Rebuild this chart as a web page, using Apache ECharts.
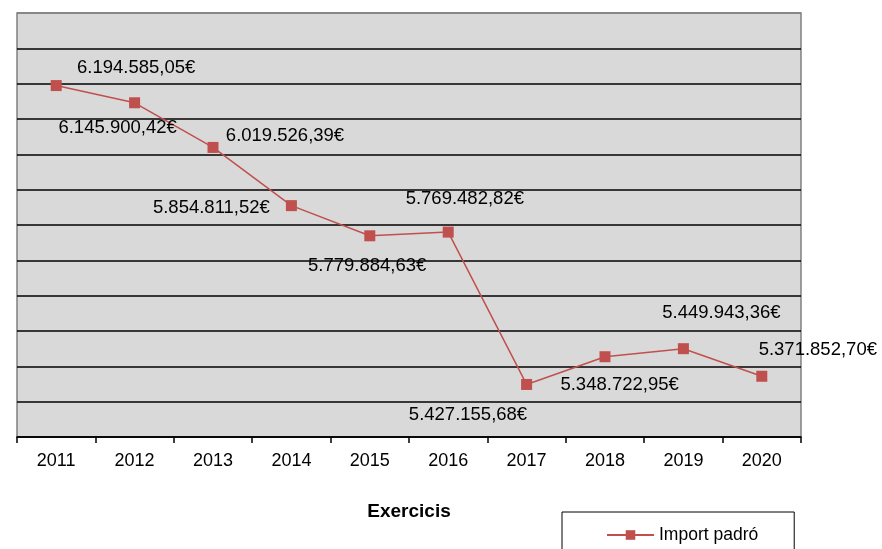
<!DOCTYPE html>
<html>
<head>
<meta charset="utf-8">
<script src="https://cdn.jsdelivr.net/npm/echarts@6/dist/echarts.min.js"></script>
<style>html,body{margin:0;padding:0;background:#fff}#c{width:882px;height:549px}</style>
</head>
<body>
<div id="c"></div>
<script>
const categories = ['2011','2012','2013','2014','2015','2016','2017','2018','2019','2020'];
const importPadro = [6194585.05, 6145900.42, 6019526.39, 5854811.52, 5769482.82, 5779884.63, 5348722.95, 5427155.68, 5449943.36, 5371852.70];
const seriesName = 'Import padró';
const axisName = 'Exercicis';
// label placement (offset of label centre from each point), as moved in the original
const labelOffsets = [[80,-18],[-17,25],[72,-12],[-80,2],[95,-37],[-81,34],[93,0],[-137,58],[38,-36],[56,-26]];

function fmt(v){
  const s = v.toFixed(2);
  const parts = s.split('.');
  const intPart = parts[0].replace(/\B(?=(\d{3})+(?!\d))/g, '.');
  return intPart + ',' + parts[1] + '€';
}

const font = 'Liberation Sans, Arial, sans-serif';
const gridColors = [];
for (let i = 0; i < 12; i++) gridColors.push('#000');
gridColors.push('#808080');

const chart = echarts.init(document.getElementById('c'), null, {renderer:'canvas'});
chart.setOption({
  animation: false,
  textStyle: {fontFamily: font},
  grid: {left: 17, right: 81, top: 13, bottom: 112, show: true, backgroundColor: '#d9d9d9', borderColor: '#808080', borderWidth: 1.5},
  legend: {
    left: 562, top: 512,
    data: [seriesName],
    itemWidth: 47, itemHeight: 12,
    padding: [14, 36, 20, 44],
    borderColor: '#000', borderWidth: 1,
    textStyle: {fontSize: 17.5, color: '#000', fontFamily: font}
  },
  xAxis: {
    type: 'category', data: categories, boundaryGap: true,
    name: axisName, nameLocation: 'middle', nameGap: 65,
    nameTextStyle: {fontSize: 19, fontWeight: 'bold', color: '#000', fontFamily: font},
    axisLine: {lineStyle: {color: '#000', width: 1.5}},
    axisTick: {show: true, length: 6, lineStyle: {color: '#000', width: 1.5}},
    axisLabel: {fontSize: 18, color: '#000', margin: 15, fontFamily: font},
    splitLine: {show: false}
  },
  yAxis: {
    type: 'value', min: 5200000, max: 6400000, interval: 100000,
    axisLabel: {show: false}, axisLine: {show: false}, axisTick: {show: false},
    splitLine: {show: true, lineStyle: {color: gridColors, width: 1.5}}
  },
  series: [{
    name: seriesName, type: 'line',
    data: importPadro.map((v, i) => ({value: v, label: {offset: labelOffsets[i]}})),
    symbol: 'rect', symbolSize: 11,
    lineStyle: {color: '#c0504d', width: 1.5},
    itemStyle: {color: '#c0504d'},
    label: {
      show: true, position: 'inside', align: 'center', verticalAlign: 'middle',
      fontSize: 18.5, color: '#000', fontFamily: font,
      formatter: p => fmt(p.value)
    }
  }]
});
</script>
</body>
</html>
